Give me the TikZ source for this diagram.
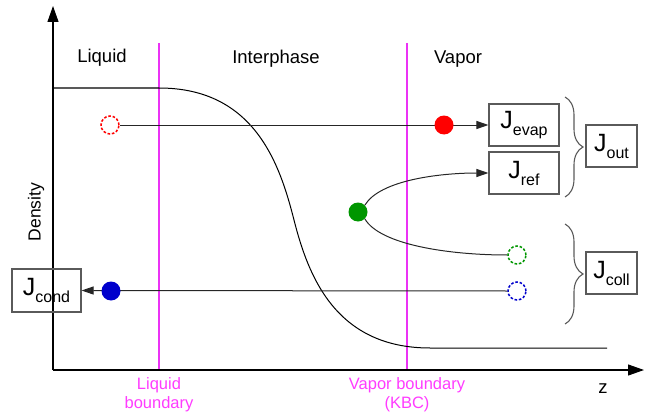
\documentclass[tikz,border=0pt]{standalone}
\usepackage{fontspec}
\setmainfont{Liberation Sans}
\usetikzlibrary{arrows.meta,decorations.pathreplacing}
\definecolor{bndline}{RGB}{235,50,245}
\definecolor{btext}{RGB}{255,60,255}
\definecolor{myred}{RGB}{255,0,0}
\definecolor{mygreen}{RGB}{0,150,0}
\definecolor{myblue}{RGB}{0,0,204}
\definecolor{boxgray}{RGB}{90,90,90}
\newcommand{\Jlab}[1]{{\fontsize{25}{25}\selectfont J}{\fontsize{16}{16}\selectfont\raisebox{-7pt}{#1}}}
\tikzset{
  jbox/.style={draw=boxgray, line width=1.1pt, inner sep=0pt, align=center},
  lab/.style={font=\fontsize{18.5}{20}\selectfont, inner sep=0pt},
  blab/.style={font=\fontsize{16.5}{19}\selectfont, text=btext, align=center, inner sep=0pt},
  dcirc/.style={circle, draw, dash pattern=on 2.6pt off 1.8pt, line width=1.5pt, minimum size=18pt, inner sep=0pt},
  fcirc/.style={circle, minimum size=19pt, inner sep=0pt},
  conn/.style={draw=black!85, line width=1pt},
  arr/.style={-{Triangle[length=12pt,width=8pt]}},
  brc/.style={draw=boxgray, line width=1.1pt, decorate, decoration={brace, amplitude=18pt, aspect=0.5}},
}
\begin{document}
\begin{tikzpicture}[x=1pt,y=-1pt]
\useasboundingbox (0,0) rectangle (648,420);
% boundaries
\coordinate (lb1) at (159,43); \coordinate (lb2) at (159,370);
\coordinate (vb1) at (407,43); \coordinate (vb2) at (407,370);
\draw[color=bndline, line width=1.1pt] (lb1) -- (lb2);
\draw[color=bndline, line width=1.1pt] (vb1) -- (vb2);
% axes
\coordinate (origin) at (53,370);
\coordinate (ytop) at (53,6);
\coordinate (xend) at (644,370);
\draw[line width=1.1pt, -{Triangle[length=16pt,width=11pt]}] (origin) -- (ytop);
\draw[line width=1.1pt, -{Triangle[length=16pt,width=11pt]}] (origin) -- (xend);
% density curve
\draw[black, line width=1pt] (53,88) -- (159,88)
  .. controls (255,88) and (280,165) .. (294,220)
  .. controls (308,275) and (335,348) .. (430,348) -- (607,348);
% region labels
\node[lab] (tliq) at (102,58) {Liquid};
\node[lab] (tint) at (276,59) {Interphase};
\node[lab] (tvap) at (458,59) {Vapor};
\node[lab, rotate=90, font=\fontsize{17.5}{17.5}\selectfont] (tden) at (36,212) {Density};
\node[lab] (tz) at (603,389) {z};
\node[blab] (tlb) at (159,395) {Liquid\\boundary};
\node[blab] (tvb) at (407,395) {Vapor boundary\\(KBC)};
% boxes
\node[jbox, minimum width=70pt, minimum height=42pt] (evap) at (524,125) {\Jlab{evap}};
\node[jbox, minimum width=70pt, minimum height=42pt] (ref) at (524,173) {\Jlab{ref}};
\node[jbox, minimum width=51pt, minimum height=42pt] (out) at (611.5,146) {\Jlab{out}};
\node[jbox, minimum width=51pt, minimum height=42pt] (coll) at (611.5,273) {\Jlab{coll}};
\node[jbox, minimum width=69pt, minimum height=43pt] (cond) at (46.5,290.5) {\Jlab{cond}};
% circles
\node[dcirc, draw=myred] (rd) at (110,125) {};
\node[dcirc, draw=mygreen] (gd) at (517,255) {};
\node[dcirc, draw=myblue] (bd) at (517,291) {};
% connectors
\draw[conn, arr] (rd.east) -- (evap.west);
\draw[conn, arr] (bd.west) -- (cond.east);
\node[fcirc, fill=myred] (rf) at (444,125) {};
\node[fcirc, fill=mygreen] (gf) at (358,212) {};
\node[fcirc, fill=myblue] (bf) at (111,291) {};
\draw[conn, arr] (gf.north east) .. controls (380,180) and (440,173) .. (ref.west);
\draw[conn] (gf.south east) .. controls (380,245) and (450,255) .. (gd.west);
% braces
\coordinate (b1a) at (565,97); \coordinate (b1b) at (565,197);
\coordinate (b2a) at (565,224); \coordinate (b2b) at (565,324);
\draw[brc] (b1a) -- (b1b);
\draw[brc] (b2a) -- (b2b);
\end{tikzpicture}
\end{document}
